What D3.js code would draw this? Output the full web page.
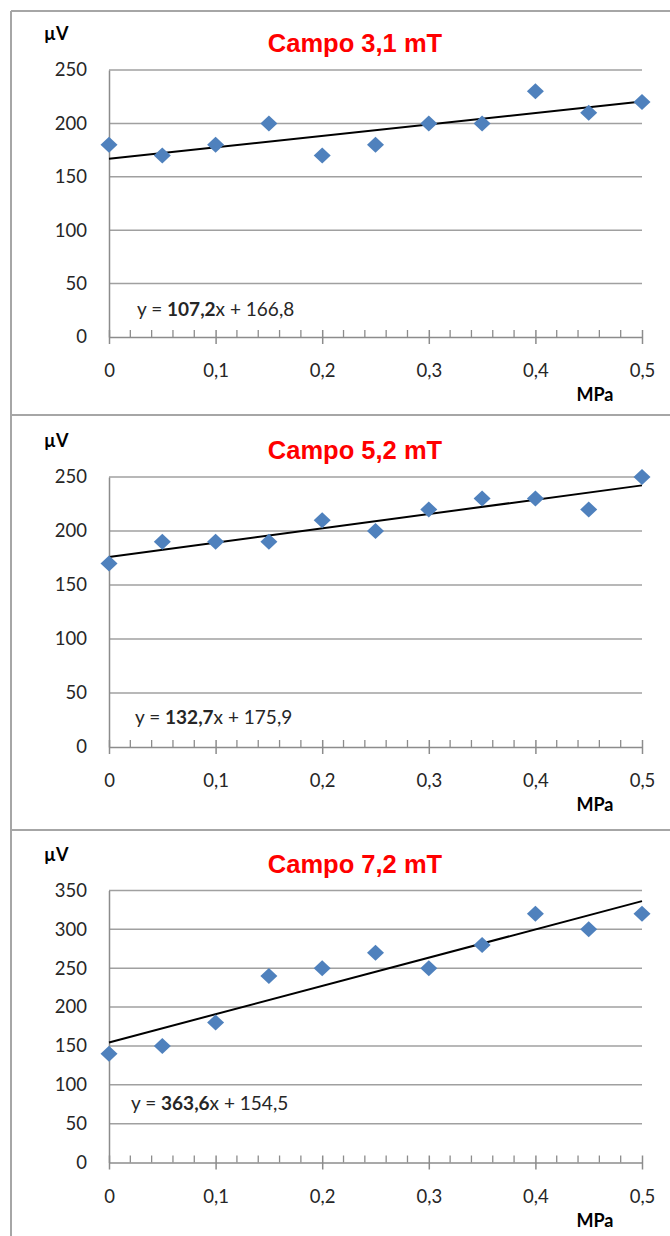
<!DOCTYPE html>
<html><head><meta charset="utf-8">
<script src="https://cdn.jsdelivr.net/npm/d3@7"></script>
<style>html,body{margin:0;padding:0;background:#fff;}svg{display:block;}</style>
</head><body>
<script>
// ---- data ----
const pressure = [0, 0.05, 0.1, 0.15, 0.2, 0.25, 0.3, 0.35, 0.4, 0.45, 0.5];
const campo31 = [180, 170, 180, 200, 170, 180, 200, 200, 230, 210, 220];
const campo52 = [170, 190, 190, 190, 210, 200, 220, 230, 230, 220, 250];
const campo72 = [140, 150, 180, 240, 250, 270, 250, 280, 320, 300, 320];
const titles = ["Campo 3,1 mT", "Campo 5,2 mT", "Campo 7,2 mT"];
const slopes = [107.2, 132.7, 363.6];
const intercepts = [166.8, 175.9, 154.5];
const slopeLabels = ["107,2", "132,7", "363,6"];
const interceptLabels = ["166,8", "175,9", "154,5"];
const yMaxes = [250, 250, 350];
const xTicks = [0, 0.1, 0.2, 0.3, 0.4, 0.5];
const xTickLabels = ["0", "0,1", "0,2", "0,3", "0,4", "0,5"];
const series = [campo31, campo52, campo72];

// ---- layout ----
const W = 670, H = 1236;
const panels = [
  {top: 70, bottom: 337, eqX: 137, eqDy: 28},
  {top: 477, bottom: 747, eqX: 135, eqDy: 30},
  {top: 890.5, bottom: 1162.5, eqX: 131, eqDy: 59}
];
const left = 109, right = 642;
const font = "Lato, 'Open Sans', sans-serif";
const txt = "#262626";

const svg = d3.select("body").append("svg").attr("width", W).attr("height", H);

// frame
const frame = svg.append("g").attr("stroke", "#a6a6a6").attr("stroke-width", 2).attr("fill", "none");
frame.append("line").attr("x1", 11).attr("x2", W).attr("y1", 11).attr("y2", 11);
frame.append("line").attr("x1", 11).attr("x2", W).attr("y1", 415).attr("y2", 415);
frame.append("line").attr("x1", 11).attr("x2", W).attr("y1", 830).attr("y2", 830);
frame.append("line").attr("x1", 11).attr("x2", 11).attr("y1", 11).attr("y2", H);

const x = d3.scaleLinear().domain([0, 0.5]).range([left, right]);

panels.forEach((p, i) => {
  const g = svg.append("g");
  const y = d3.scaleLinear().domain([0, yMaxes[i]]).range([p.bottom, p.top]);
  const yTicks = d3.range(0, yMaxes[i] + 1, 50);

  // gridlines
  g.append("g").selectAll("line").data(yTicks.filter(d => d > 0)).join("line")
    .attr("x1", left).attr("x2", right)
    .attr("y1", d => y(d)).attr("y2", d => y(d))
    .attr("stroke", "#a0a0a0").attr("stroke-width", 1.5);

  // y axis
  const ya = g.append("g").attr("transform", `translate(${left},0)`)
    .call(d3.axisLeft(y).tickValues(yTicks).tickSize(0).tickPadding(22).tickFormat(d3.format("d")));
  ya.select(".domain").attr("stroke", "#8c8c8c").attr("stroke-width", 1.5);
  ya.selectAll("text").attr("font-family", font).attr("font-size", 18.5).attr("fill", txt);

  // x axis minor ticks (inside)
  const minor = d3.range(0, 51, 2).map(d => d / 100).filter(d => Math.round(d * 100) % 10 !== 0);
  g.append("g").selectAll("line").data(minor).join("line")
    .attr("x1", d => x(d)).attr("x2", d => x(d))
    .attr("y1", p.bottom - 7).attr("y2", p.bottom)
    .attr("stroke", "#8c8c8c").attr("stroke-width", 1.3);
  // x axis major
  const xa = g.append("g").attr("transform", `translate(0,${p.bottom})`)
    .call(d3.axisBottom(x).tickValues(xTicks).tickSizeInner(7).tickSizeOuter(0).tickPadding(20)
      .tickFormat((d, k) => xTickLabels[k]));
  xa.select(".domain").attr("stroke", "#8c8c8c").attr("stroke-width", 1.5);
  xa.selectAll(".tick line").attr("stroke", "#8c8c8c").attr("stroke-width", 1.5).attr("y1", -7);
  xa.selectAll("text").attr("font-family", font).attr("font-size", 18.5).attr("fill", txt);

  // trendline
  g.append("line")
    .attr("x1", x(0)).attr("y1", y(intercepts[i]))
    .attr("x2", x(0.5)).attr("y2", y(slopes[i] * 0.5 + intercepts[i]))
    .attr("stroke", "#000").attr("stroke-width", 2);

  // markers (diamonds)
  g.append("g").selectAll("path").data(pressure.map((d, k) => [d, series[i][k]])).join("path")
    .attr("transform", d => `translate(${x(d[0])},${y(d[1])})`)
    .attr("d", "M0,-8L8.5,0L0,8L-8.5,0Z")
    .attr("fill", "#4f81bd");

  // title
  g.append("text").attr("x", 355).attr("y", p.top - 18)
    .attr("text-anchor", "middle").attr("font-family", "'Liberation Sans', Arial, sans-serif")
    .attr("font-weight", "bold").attr("font-size", 25.5).attr("fill", "#ff0000").text(titles[i]);

  // axis titles
  g.append("text").attr("x", 44).attr("y", p.top - 30)
    .attr("font-family", font).attr("font-weight", "bold").attr("font-size", 18).attr("fill", "#000").text("µV");
  g.append("text").attr("x", 595).attr("y", p.bottom + 64)
    .attr("text-anchor", "middle")
    .attr("font-family", font).attr("font-weight", "bold").attr("font-size", 18).attr("fill", "#000").text("MPa");

  // equation
  const eq = g.append("text").attr("x", p.eqX).attr("y", p.bottom - p.eqDy + 6.5)
    .attr("font-family", font).attr("font-size", 19).attr("fill", txt);
  eq.append("tspan").text("y = ");
  eq.append("tspan").attr("font-weight", "bold").text(slopeLabels[i]);
  eq.append("tspan").text("x + " + interceptLabels[i]);
});
</script>
</body></html>
